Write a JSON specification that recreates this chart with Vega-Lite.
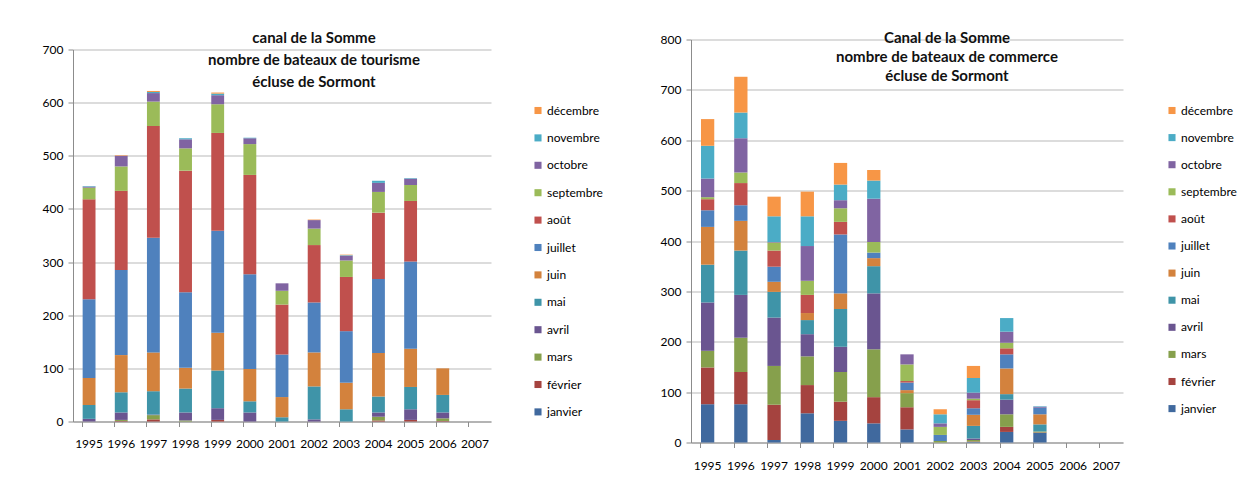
{
  "$schema": "https://vega.github.io/schema/vega-lite/v6.json",
  "background": "white",
  "padding": {"left": 0, "top": 30.5, "right": 0, "bottom": 0},
  "bounds": "full",
  "align": "none",
  "spacing": 28,
  "config": {
    "font": "Lato",
    "view": {"stroke": null},
    "axis": {"labelFont": "Lato", "labelFontSize": 12, "labelColor": "#000000", "domainColor": "#8c8c8c", "tickColor": "#8c8c8c", "gridColor": "#bababa", "gridWidth": 1.2, "title": null},
    "legend": {"labelFont": "Lato", "labelFontSize": 12, "labelColor": "#000000", "symbolType": "square", "symbolSize": 50, "symbolStrokeWidth": 0, "rowPadding": 15.4, "padding": 0, "labelOffset": 3},
    "title": {"font": "Lato", "fontSize": 15, "fontWeight": "bold", "color": "#111111", "anchor": "middle"}
  },
  "datasets": {
    "months": [
      {"m": 1, "mo": "janvier"}, {"m": 2, "mo": "février"}, {"m": 3, "mo": "mars"}, {"m": 4, "mo": "avril"},
      {"m": 5, "mo": "mai"}, {"m": 6, "mo": "juin"}, {"m": 7, "mo": "juillet"}, {"m": 8, "mo": "août"},
      {"m": 9, "mo": "septembre"}, {"m": 10, "mo": "octobre"}, {"m": 11, "mo": "novembre"}, {"m": 12, "mo": "décembre"}
    ],
    "tour": [
      {"y": "1995", "m": 4, "v": 5}, {"y": "1995", "m": 5, "v": 26}, {"y": "1995", "m": 6, "v": 51}, {"y": "1995", "m": 7, "v": 148}, {"y": "1995", "m": 8, "v": 188}, {"y": "1995", "m": 9, "v": 22}, {"y": "1995", "m": 10, "v": 2}, {"y": "1995", "m": 11, "v": 1},
      {"y": "1996", "m": 2, "v": 1}, {"y": "1996", "m": 3, "v": 2}, {"y": "1996", "m": 4, "v": 14}, {"y": "1996", "m": 5, "v": 38}, {"y": "1996", "m": 6, "v": 70}, {"y": "1996", "m": 7, "v": 160}, {"y": "1996", "m": 8, "v": 149}, {"y": "1996", "m": 9, "v": 46}, {"y": "1996", "m": 10, "v": 20}, {"y": "1996", "m": 12, "v": 1},
      {"y": "1997", "m": 2, "v": 4}, {"y": "1997", "m": 3, "v": 8}, {"y": "1997", "m": 4, "v": 1}, {"y": "1997", "m": 5, "v": 44}, {"y": "1997", "m": 6, "v": 73}, {"y": "1997", "m": 7, "v": 216}, {"y": "1997", "m": 8, "v": 210}, {"y": "1997", "m": 9, "v": 46}, {"y": "1997", "m": 10, "v": 16}, {"y": "1997", "m": 11, "v": 2}, {"y": "1997", "m": 12, "v": 2},
      {"y": "1998", "m": 3, "v": 2}, {"y": "1998", "m": 4, "v": 15}, {"y": "1998", "m": 5, "v": 45}, {"y": "1998", "m": 6, "v": 39}, {"y": "1998", "m": 7, "v": 142}, {"y": "1998", "m": 8, "v": 229}, {"y": "1998", "m": 9, "v": 42}, {"y": "1998", "m": 10, "v": 17}, {"y": "1998", "m": 11, "v": 2},
      {"y": "1999", "m": 2, "v": 3}, {"y": "1999", "m": 4, "v": 22}, {"y": "1999", "m": 5, "v": 71}, {"y": "1999", "m": 6, "v": 71}, {"y": "1999", "m": 7, "v": 192}, {"y": "1999", "m": 8, "v": 184}, {"y": "1999", "m": 9, "v": 54}, {"y": "1999", "m": 10, "v": 17}, {"y": "1999", "m": 11, "v": 3}, {"y": "1999", "m": 12, "v": 2},
      {"y": "2000", "m": 4, "v": 17}, {"y": "2000", "m": 5, "v": 21}, {"y": "2000", "m": 6, "v": 61}, {"y": "2000", "m": 7, "v": 178}, {"y": "2000", "m": 8, "v": 187}, {"y": "2000", "m": 9, "v": 58}, {"y": "2000", "m": 10, "v": 11}, {"y": "2000", "m": 11, "v": 1},
      {"y": "2001", "m": 5, "v": 8}, {"y": "2001", "m": 6, "v": 38}, {"y": "2001", "m": 7, "v": 80}, {"y": "2001", "m": 8, "v": 94}, {"y": "2001", "m": 9, "v": 26}, {"y": "2001", "m": 10, "v": 14},
      {"y": "2002", "m": 4, "v": 4}, {"y": "2002", "m": 5, "v": 62}, {"y": "2002", "m": 6, "v": 64}, {"y": "2002", "m": 7, "v": 94}, {"y": "2002", "m": 8, "v": 108}, {"y": "2002", "m": 9, "v": 31}, {"y": "2002", "m": 10, "v": 16}, {"y": "2002", "m": 12, "v": 1},
      {"y": "2003", "m": 5, "v": 23}, {"y": "2003", "m": 6, "v": 50}, {"y": "2003", "m": 7, "v": 97}, {"y": "2003", "m": 8, "v": 102}, {"y": "2003", "m": 9, "v": 31}, {"y": "2003", "m": 10, "v": 9}, {"y": "2003", "m": 11, "v": 1}, {"y": "2003", "m": 12, "v": 1},
      {"y": "2004", "m": 2, "v": 2}, {"y": "2004", "m": 3, "v": 7}, {"y": "2004", "m": 4, "v": 8}, {"y": "2004", "m": 5, "v": 30}, {"y": "2004", "m": 6, "v": 82}, {"y": "2004", "m": 7, "v": 139}, {"y": "2004", "m": 8, "v": 125}, {"y": "2004", "m": 9, "v": 39}, {"y": "2004", "m": 10, "v": 17}, {"y": "2004", "m": 11, "v": 4},
      {"y": "2005", "m": 2, "v": 3}, {"y": "2005", "m": 4, "v": 20}, {"y": "2005", "m": 5, "v": 42}, {"y": "2005", "m": 6, "v": 72}, {"y": "2005", "m": 7, "v": 164}, {"y": "2005", "m": 8, "v": 114}, {"y": "2005", "m": 9, "v": 30}, {"y": "2005", "m": 10, "v": 12}, {"y": "2005", "m": 11, "v": 1},
      {"y": "2006", "m": 2, "v": 1}, {"y": "2006", "m": 3, "v": 5}, {"y": "2006", "m": 4, "v": 11}, {"y": "2006", "m": 5, "v": 33}, {"y": "2006", "m": 6, "v": 50}
    ],
    "comm": [
      {"y": "1995", "m": 1, "v": 76}, {"y": "1995", "m": 2, "v": 73}, {"y": "1995", "m": 3, "v": 33}, {"y": "1995", "m": 4, "v": 96}, {"y": "1995", "m": 5, "v": 75}, {"y": "1995", "m": 6, "v": 75}, {"y": "1995", "m": 7, "v": 33}, {"y": "1995", "m": 8, "v": 22}, {"y": "1995", "m": 9, "v": 4}, {"y": "1995", "m": 10, "v": 37}, {"y": "1995", "m": 11, "v": 65}, {"y": "1995", "m": 12, "v": 53},
      {"y": "1996", "m": 1, "v": 76}, {"y": "1996", "m": 2, "v": 64}, {"y": "1996", "m": 3, "v": 68}, {"y": "1996", "m": 4, "v": 85}, {"y": "1996", "m": 5, "v": 88}, {"y": "1996", "m": 6, "v": 59}, {"y": "1996", "m": 7, "v": 31}, {"y": "1996", "m": 8, "v": 44}, {"y": "1996", "m": 9, "v": 21}, {"y": "1996", "m": 10, "v": 68}, {"y": "1996", "m": 11, "v": 51}, {"y": "1996", "m": 12, "v": 71},
      {"y": "1997", "m": 1, "v": 5}, {"y": "1997", "m": 2, "v": 70}, {"y": "1997", "m": 3, "v": 77}, {"y": "1997", "m": 4, "v": 96}, {"y": "1997", "m": 5, "v": 51}, {"y": "1997", "m": 6, "v": 20}, {"y": "1997", "m": 7, "v": 30}, {"y": "1997", "m": 8, "v": 32}, {"y": "1997", "m": 9, "v": 16}, {"y": "1997", "m": 10, "v": 1}, {"y": "1997", "m": 11, "v": 51}, {"y": "1997", "m": 12, "v": 39},
      {"y": "1998", "m": 1, "v": 58}, {"y": "1998", "m": 2, "v": 56}, {"y": "1998", "m": 3, "v": 57}, {"y": "1998", "m": 4, "v": 44}, {"y": "1998", "m": 5, "v": 28}, {"y": "1998", "m": 6, "v": 14}, {"y": "1998", "m": 8, "v": 36}, {"y": "1998", "m": 9, "v": 28}, {"y": "1998", "m": 10, "v": 69}, {"y": "1998", "m": 11, "v": 59}, {"y": "1998", "m": 12, "v": 49},
      {"y": "1999", "m": 1, "v": 43}, {"y": "1999", "m": 2, "v": 38}, {"y": "1999", "m": 3, "v": 59}, {"y": "1999", "m": 4, "v": 50}, {"y": "1999", "m": 5, "v": 75}, {"y": "1999", "m": 6, "v": 31}, {"y": "1999", "m": 7, "v": 117}, {"y": "1999", "m": 8, "v": 25}, {"y": "1999", "m": 9, "v": 27}, {"y": "1999", "m": 10, "v": 16}, {"y": "1999", "m": 11, "v": 31}, {"y": "1999", "m": 12, "v": 43},
      {"y": "2000", "m": 1, "v": 38}, {"y": "2000", "m": 2, "v": 52}, {"y": "2000", "m": 3, "v": 95}, {"y": "2000", "m": 4, "v": 111}, {"y": "2000", "m": 5, "v": 54}, {"y": "2000", "m": 6, "v": 16}, {"y": "2000", "m": 7, "v": 11}, {"y": "2000", "m": 9, "v": 21}, {"y": "2000", "m": 10, "v": 86}, {"y": "2000", "m": 11, "v": 36}, {"y": "2000", "m": 12, "v": 21},
      {"y": "2001", "m": 1, "v": 26}, {"y": "2001", "m": 2, "v": 44}, {"y": "2001", "m": 3, "v": 28}, {"y": "2001", "m": 6, "v": 6}, {"y": "2001", "m": 7, "v": 15}, {"y": "2001", "m": 8, "v": 3}, {"y": "2001", "m": 9, "v": 33}, {"y": "2001", "m": 10, "v": 20},
      {"y": "2002", "m": 3, "v": 3}, {"y": "2002", "m": 7, "v": 12}, {"y": "2002", "m": 9, "v": 16}, {"y": "2002", "m": 10, "v": 7}, {"y": "2002", "m": 11, "v": 18}, {"y": "2002", "m": 12, "v": 10},
      {"y": "2003", "m": 1, "v": 1}, {"y": "2003", "m": 2, "v": 1}, {"y": "2003", "m": 3, "v": 3}, {"y": "2003", "m": 4, "v": 3}, {"y": "2003", "m": 5, "v": 25}, {"y": "2003", "m": 6, "v": 22}, {"y": "2003", "m": 7, "v": 13}, {"y": "2003", "m": 8, "v": 16}, {"y": "2003", "m": 9, "v": 3}, {"y": "2003", "m": 10, "v": 12}, {"y": "2003", "m": 11, "v": 29}, {"y": "2003", "m": 12, "v": 24},
      {"y": "2004", "m": 1, "v": 21}, {"y": "2004", "m": 2, "v": 10}, {"y": "2004", "m": 3, "v": 25}, {"y": "2004", "m": 4, "v": 29}, {"y": "2004", "m": 5, "v": 11}, {"y": "2004", "m": 6, "v": 51}, {"y": "2004", "m": 7, "v": 28}, {"y": "2004", "m": 8, "v": 12}, {"y": "2004", "m": 9, "v": 11}, {"y": "2004", "m": 10, "v": 22}, {"y": "2004", "m": 11, "v": 27},
      {"y": "2005", "m": 1, "v": 19}, {"y": "2005", "m": 2, "v": 1}, {"y": "2005", "m": 3, "v": 2}, {"y": "2005", "m": 5, "v": 14}, {"y": "2005", "m": 6, "v": 20}, {"y": "2005", "m": 7, "v": 13}, {"y": "2005", "m": 10, "v": 2}, {"y": "2005", "m": 11, "v": 1}
    ]
  },
  "hconcat": [
    {
      "width": 418,
      "height": 382,
      "title": {"text": ["canal de la Somme", "nombre de bateaux de tourisme", "écluse de Sormont"], "lineHeight": 22, "offset": -50, "dx": 32},
      "data": {"name": "tour"},
      "transform": [{"lookup": "m", "from": {"data": {"name": "months"}, "key": "m", "fields": ["mo"]}}],
      "layer": [
        {
          "mark": {"type": "bar"},
          "encoding": {
            "x": {"field": "y", "type": "nominal", "sort": null,
              "scale": {"domain": ["1995","1996","1997","1998","1999","2000","2001","2002","2003","2004","2005","2006","2007"], "paddingInner": 0.6, "paddingOuter": 0.3},
              "axis": {"orient": "bottom", "ticks": false, "labelAngle": 0, "labelPadding": 17, "domain": true, "grid": false}},
            "y": {"field": "v", "type": "quantitative", "stack": "zero",
              "scale": {"domain": [0, 718.82], "nice": false},
              "axis": {"values": [0,100,200,300,400,500,600,700], "grid": true, "tickSize": 5, "labelPadding": 5, "minExtent": 73, "maxExtent": 73, "domainDash": [372, 40]}},
            "color": {"field": "mo", "type": "nominal",
              "scale": {"domain": ["décembre","novembre","octobre","septembre","août","juillet","juin","mai","avril","mars","février","janvier"],
                        "range": ["#F79646","#4BACC6","#8064A2","#9BBB59","#C0504D","#4F81BD","#D3823D","#3F94A8","#6A5590","#86A04C","#A5433F","#40699E"]},
              "legend": {"title": " ", "titleFontSize": 8, "titlePadding": 57, "offset": 41}},
            "order": {"field": "m", "type": "quantitative", "sort": "ascending"}
          }
        },
        {
          "mark": {"type": "rule", "opacity": 0},
          "encoding": {
            "x": {"field": "y", "type": "nominal", "sort": null,
              "axis": {"orient": "bottom", "labels": false, "domain": false, "ticks": true, "tickSize": 5, "bandPosition": 0, "grid": false}}
          }
        }
      ],
      "resolve": {"axis": {"x": "independent"}}
    },
    {
      "width": 432,
      "height": 403,
      "title": {"text": ["Canal de la Somme", "nombre de bateaux de commerce", "écluse de Sormont"], "lineHeight": 19, "offset": -50, "dx": 40},
      "data": {"name": "comm"},
      "transform": [{"lookup": "m", "from": {"data": {"name": "months"}, "key": "m", "fields": ["mo"]}}],
      "layer": [
        {
          "mark": {"type": "bar"},
          "encoding": {
            "x": {"field": "y", "type": "nominal", "sort": null,
              "scale": {"domain": ["1995","1996","1997","1998","1999","2000","2001","2002","2003","2004","2005","2006","2007"], "paddingInner": 0.6, "paddingOuter": 0.3},
              "axis": {"orient": "bottom", "ticks": false, "labelAngle": 0, "labelPadding": 18, "domain": true, "grid": false}},
            "y": {"field": "v", "type": "quantitative", "stack": "zero",
              "scale": {"domain": [0, 800], "nice": false},
              "axis": {"values": [0,100,200,300,400,500,600,700,800], "grid": true, "tickSize": 5, "labelPadding": 5, "minExtent": 60, "maxExtent": 60}},
            "color": {"field": "mo", "type": "nominal",
              "scale": {"domain": ["décembre","novembre","octobre","septembre","août","juillet","juin","mai","avril","mars","février","janvier"],
                        "range": ["#F79646","#4BACC6","#8064A2","#9BBB59","#C0504D","#4F81BD","#D3823D","#3F94A8","#6A5590","#86A04C","#A5433F","#40699E"]},
              "legend": {"title": " ", "titleFontSize": 8, "titlePadding": 57, "offset": 43, "rowPadding": 15.1}},
            "order": {"field": "m", "type": "quantitative", "sort": "ascending"}
          }
        },
        {
          "mark": {"type": "rule", "opacity": 0},
          "encoding": {
            "x": {"field": "y", "type": "nominal", "sort": null,
              "axis": {"orient": "bottom", "labels": false, "domain": false, "ticks": true, "tickSize": 5, "bandPosition": 0, "grid": false}}
          }
        }
      ],
      "resolve": {"axis": {"x": "independent"}}
    }
  ],
  "resolve": {"scale": {"color": "independent"}}
}
